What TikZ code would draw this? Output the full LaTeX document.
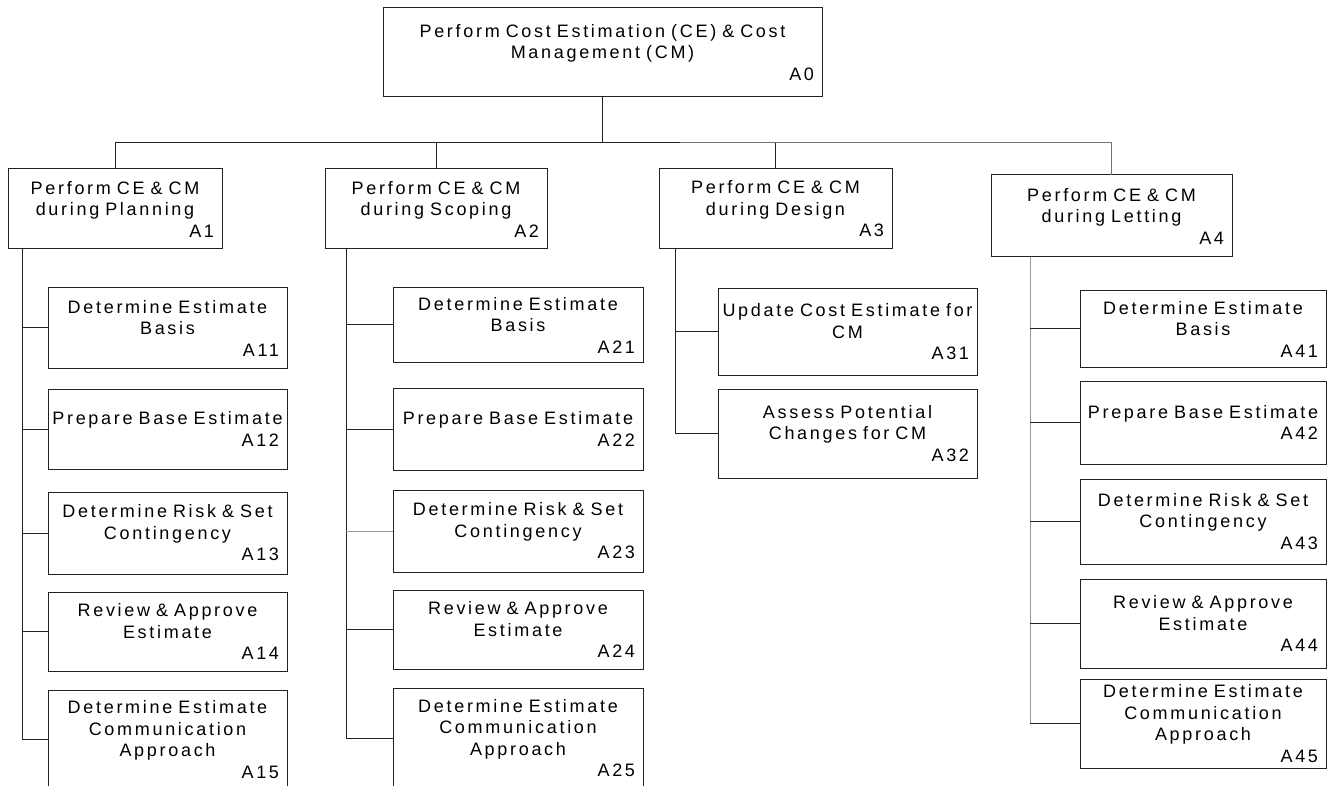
\documentclass[tikz,border=0pt]{standalone}
\usepackage{fontspec}
\setmainfont{Liberation Sans}[LetterSpace=15]
\definecolor{linec}{HTML}{222222}
\newcommand\idtag[1]{\hspace*{\fill}#1\kern6pt}
\begin{document}
\begin{tikzpicture}[x=1pt,y=-1pt]
\tikzset{
  box/.style={draw=linec, line width=1pt, inner xsep=2pt, inner ysep=0pt,
    outer sep=0pt, align=center, font=\fontsize{18}{21.5}\selectfont},
  link/.style={draw=linec, line width=1pt},
  faint/.style={draw=black!40, line width=1pt}
}
\useasboundingbox (0,0) rectangle (1328,786);

% root
\node[box, text width=435pt, minimum height=89pt] (A0) at (602.5,52.5)
  {Perform Cost Estimation (CE) \& Cost\\Management (CM)\\\idtag{A0}};

% phases
\node[box, text width=210pt, minimum height=80pt] (A1) at (115,209)
  {Perform CE \& CM\\during Planning\\\idtag{A1}};
\node[box, text width=218pt, minimum height=80pt] (A2) at (436,209)
  {Perform CE \& CM\\during Scoping\\\idtag{A2}};
\node[box, text width=229pt, minimum height=80pt] (A3) at (775.5,209)
  {Perform CE \& CM\\during Design\\\idtag{A3}};
\node[box, text width=237pt, minimum height=82pt] (A4) at (1111.5,216)
  {Perform CE \& CM\\during Letting\\\idtag{A4}};

% planning tasks
\node[box, text width=235pt, minimum height=80pt] (A11) at (167.5,328)
  {Determine Estimate\\Basis\\\idtag{A11}};
\node[box, text width=235pt, minimum height=80pt] (A12) at (167.5,429)
  {Prepare Base Estimate\\\idtag{A12}};
\node[box, text width=235pt, minimum height=82pt] (A13) at (167.5,533)
  {Determine Risk \& Set\\Contingency\\\idtag{A13}};
\node[box, text width=235pt, minimum height=79pt] (A14) at (167.5,631.5)
  {Review \& Approve\\Estimate\\\idtag{A14}};
\node[box, text width=235pt, minimum height=99pt] (A15) at (167.5,739.5)
  {Determine Estimate\\Communication\\Approach\\\idtag{A15}};

% scoping tasks
\node[box, text width=246pt, minimum height=74pt] (A21) at (518,325)
  {Determine Estimate\\Basis\\\idtag{A21}};
\node[box, text width=246pt, minimum height=82pt] (A22) at (518,429)
  {Prepare Base Estimate\\\idtag{A22}};
\node[box, text width=246pt, minimum height=82pt] (A23) at (518,531)
  {Determine Risk \& Set\\Contingency\\\idtag{A23}};
\node[box, text width=246pt, minimum height=79pt] (A24) at (518,629.5)
  {Review \& Approve\\Estimate\\\idtag{A24}};
\node[box, text width=246pt, minimum height=100pt] (A25) at (518,738)
  {Determine Estimate\\Communication\\Approach\\\idtag{A25}};

% design tasks
\node[box, text width=255pt, minimum height=86pt] (A31) at (847.5,332)
  {Update Cost Estimate for\\CM\\\idtag{A31}};
\node[box, text width=255pt, minimum height=89pt] (A32) at (847.5,433.5)
  {Assess Potential\\Changes for CM\\\idtag{A32}};

% letting tasks
\node[box, text width=242pt, minimum height=76pt] (A41) at (1203,329)
  {Determine Estimate\\Basis\\\idtag{A41}};
\node[box, text width=242pt, minimum height=83pt] (A42) at (1203,422.5)
  {Prepare Base Estimate\\\idtag{A42}};
\node[box, text width=242pt, minimum height=85pt] (A43) at (1203,521.5)
  {Determine Risk \& Set\\Contingency\\\idtag{A43}};
\node[box, text width=242pt, minimum height=89pt] (A44) at (1203,623.5)
  {Review \& Approve\\Estimate\\\idtag{A44}};
\node[box, text width=242pt, minimum height=89pt] (A45) at (1203,723.5)
  {Determine Estimate\\Communication\\Approach\\\idtag{A45}};

% root to phases: the bar turns lighter on its right-hand part
\coordinate (bar) at (602.5,143);
\coordinate (barfade) at (680,143);
\draw[link] (A0.south) -- (bar);
\draw[link] (A1.north) |- (barfade);
\draw[draw=black!55, line width=1pt] (barfade) -| (A4.north);
\draw[link] (A2.north) -- (A2.north |- bar);
\draw[link] (A3.north) -- (A3.north |- bar);

% trunk ends
\coordinate (t1) at (22,740);
\coordinate (t2) at (346,738);
\coordinate (t3) at (675,433.5);
\coordinate (t4) at (1030,723.5);

% planning branches
\draw[link] (A1.south -| t1) -- (t1);
\foreach \n in {A11,A12,A13,A14,A15}
  \draw[link] (\n.west) -- (\n.west -| t1);

% scoping branches
\draw[link] (A2.south -| t2) -- (t2);
\foreach \n in {A21,A22,A24,A25}
  \draw[link] (\n.west) -- (\n.west -| t2);
\draw[faint] (A23.west) -- (A23.west -| t2);

% design branches
\draw[link] (A3.south -| t3) -- (t3);
\foreach \n in {A31,A32}
  \draw[link] (\n.west) -- (\n.west -| t3);

% letting branches
\draw[faint] (A4.south -| t4) -- (t4);
\foreach \n in {A41,A42,A43,A44,A45}
  \draw[link] (\n.west) -- (\n.west -| t4);
\end{tikzpicture}
\end{document}
